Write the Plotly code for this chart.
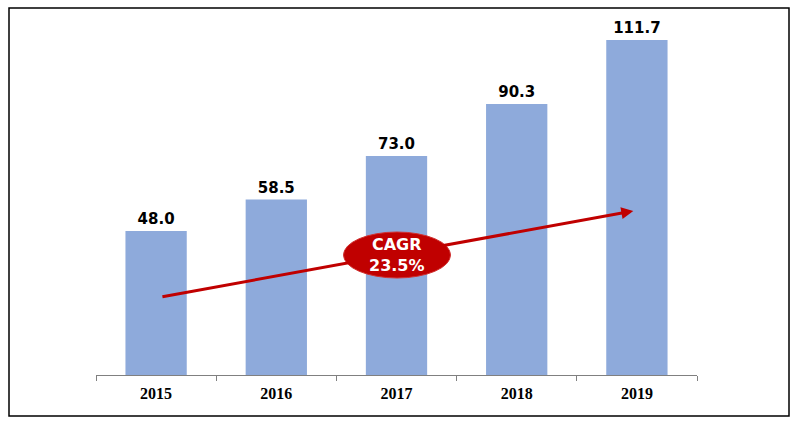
import plotly.graph_objects as go

years = ["2015", "2016", "2017", "2018", "2019"]
values = [48.0, 58.5, 73.0, 90.3, 111.7]
value_labels = ["48.0", "58.5", "73.0", "90.3", "111.7"]
cagr_text = "CAGR<br>23.5%"

# arrow endpoints (category index, value)
arrow_start = (0.04, 26.0)
arrow_end = (3.97, 54.7)
ellipse_center = (2.0, 40.0)

fig = go.Figure()
fig.add_trace(go.Bar(
    x=years, y=values, text=value_labels, textposition="outside",
    textfont=dict(family="DejaVu Sans", size=15, color="#000000", weight="bold"),
    marker=dict(color="#8EAADB", line=dict(width=0)),
    width=0.51, cliponaxis=False,
))

fig.update_layout(
    width=799, height=426,
    margin=dict(l=96, r=102, t=15, b=51),
    paper_bgcolor="white", plot_bgcolor="white",
    showlegend=False,
    xaxis=dict(type="category", showline=True, linecolor="#808080", linewidth=1,
               ticks="outside", tickson="boundaries", ticklen=5, tickcolor="#808080",
               tickfont=dict(family="Liberation Serif", size=16, color="#000000", weight="bold"),
               ticklabelstandoff=4,
               showgrid=False, range=[-0.5, 4.5]),
    yaxis=dict(visible=False, range=[0, 120], showgrid=False),
)

# outer border
fig.add_shape(type="rect", xref="paper", yref="paper",
              x0=-87/601, x1=(789-96)/601, y0=-(416-375)/360, y1=(375-8)/360,
              line=dict(color="#000000", width=1.5), layer="above")

# arrow
fig.add_annotation(x=arrow_end[0], y=arrow_end[1], ax=arrow_start[0], ay=arrow_start[1],
                   xref="x", yref="y", axref="x", ayref="y", text="",
                   showarrow=True, arrowhead=2, arrowsize=0.8, arrowwidth=3,
                   arrowcolor="#C00000", standoff=0)

# ellipse
fig.add_shape(type="circle", xref="x", yref="y", xsizemode="pixel", ysizemode="pixel",
              xanchor=ellipse_center[0], yanchor=ellipse_center[1],
              x0=-53, x1=54, y0=-23, y1=23,
              fillcolor="#C00000", line=dict(color="#D03030", width=1), layer="above")
fig.add_annotation(x=ellipse_center[0], y=ellipse_center[1], xref="x", yref="y",
                   text=cagr_text, showarrow=False,
                   font=dict(family="DejaVu Sans", size=16, color="white", weight="bold"))

fig.write_html("out.html")
